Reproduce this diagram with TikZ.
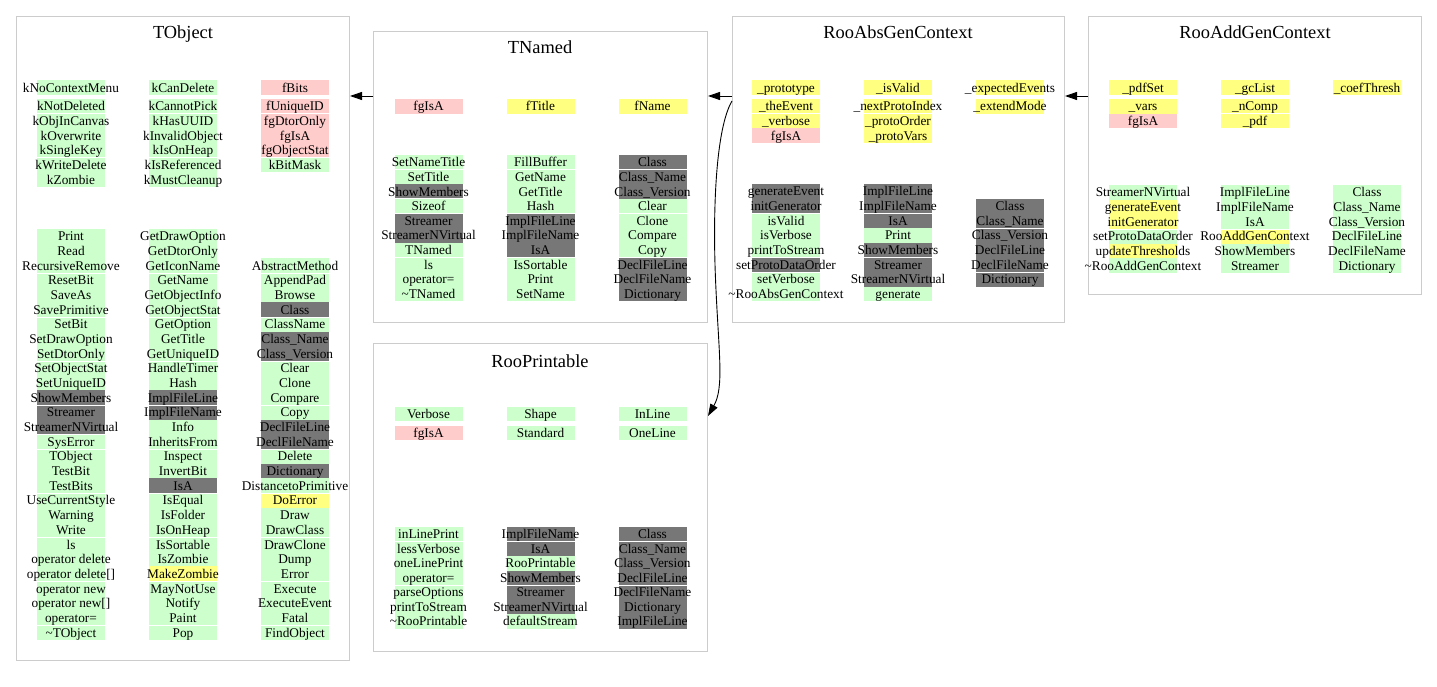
\documentclass[tikz,border=0pt]{standalone}
\usepackage{fontspec}
\setmainfont{Liberation Serif}
\usetikzlibrary{arrows.meta}
\definecolor{cg}{HTML}{CCFFCC}
\definecolor{cy}{HTML}{FFFF80}
\definecolor{cp}{HTML}{FFCCCC}
\definecolor{cd}{HTML}{777777}
\definecolor{bord}{HTML}{CCCCCC}
\newcount\cellid
\newcommand\mcol[4]{%
 \foreach \ccol/\ctext [count=\ii from 0] in {#4}{%
   \global\advance\cellid by 1
   \fill[\ccol] (#1-34,{#2+\ii*#3}) rectangle (#1+34,{#2+(\ii+1)*#3});
   \node[cell] (cell\the\cellid) at (#1,{#2+(\ii+0.5)*#3+4.6}) {\ctext};
 }%
}
\newcommand\msep[4]{%
 \foreach \s in {#4}{\draw[white,line width=1pt] (#1-34,{#2+\s*#3}) -- (#1+34,{#2+\s*#3});}%
}
\tikzset{
  cell/.style={inner sep=0pt, anchor=base, font=\fontsize{13.3pt}{14pt}\selectfont},
  title/.style={inner sep=0pt, anchor=base, font=\fontsize{18.4pt}{20pt}\selectfont},
  classbox/.style={draw=bord, line width=1pt, inner sep=0pt, fill=none},
  arr/.style={draw=black, line width=0.9pt, -{Triangle[length=12pt,width=8pt]}}
}
\begin{document}
\begin{tikzpicture}[x=1pt,y=-1pt]
\useasboundingbox (0,0) rectangle (1437,687);
\fill[white] (0,0) rectangle (1437,687);

% ---------- class boxes ----------
\node[classbox, minimum width=333pt, minimum height=644pt] (tobject) at (183,338.5) {};
\node[classbox, minimum width=334pt, minimum height=291pt] (tnamed) at (540.5,177) {};
\node[classbox, minimum width=332pt, minimum height=306pt] (rooabs) at (898.5,169.5) {};
\node[classbox, minimum width=333pt, minimum height=278pt] (rooadd) at (1255,155.5) {};
\node[classbox, minimum width=334pt, minimum height=308pt] (rooprint) at (540.5,497.5) {};

% ---------- titles ----------
\node[title] (tobjectT) at (183,39) {TObject};
\node[title] (tnamedT) at (540,54) {TNamed};
\node[title] (rooabsT) at (898,39) {RooAbsGenContext};
\node[title] (rooaddT) at (1255,39) {RooAddGenContext};
\node[title] (rooprintT) at (540,367) {RooPrintable};

% ---------- TObject ----------
\mcol{71}{80}{15}{cg/kNoContextMenu}
\mcol{183}{80}{15}{cg/kCanDelete}
\mcol{295}{80}{15}{cp/fBits}
\mcol{71}{99}{14.67}{cg/kNotDeleted, cg/kObjInCanvas, cg/kOverwrite, cg/kSingleKey, cg/kWriteDelete, cg/kZombie}
\msep{71}{99}{14.67}{1,4}
\mcol{183}{99}{14.67}{cg/kCannotPick, cg/kHasUUID, cg/kInvalidObject, cg/kIsOnHeap, cg/kIsReferenced, cg/kMustCleanup}
\msep{183}{99}{14.67}{1,4}
\mcol{295}{99}{14.67}{cp/fUniqueID, cp/fgDtorOnly, cp/fgIsA, cp/fgObjectStat, cg/kBitMask}
\msep{295}{99}{14.67}{1,4}

\mcol{71}{229}{14.67}{cg/Print, cg/Read, cg/RecursiveRemove, cg/ResetBit, cg/SaveAs, cg/SavePrimitive, cg/SetBit, cg/SetDrawOption, cg/SetDtorOnly, cg/SetObjectStat, cg/SetUniqueID, cd/ShowMembers, cd/Streamer, cd/StreamerNVirtual, cg/SysError, cg/TObject, cg/TestBit, cg/TestBits, cg/UseCurrentStyle, cg/Warning, cg/Write, cg/ls, cg/operator delete, cg/operator delete[], cg/operator new, cg/operator new[], cg/operator=, cg/\textasciitilde TObject}
\msep{71}{229}{14.67}{3,6,9,12,14,15,18,21,24,27}
\mcol{183}{229}{14.67}{cg/GetDrawOption, cg/GetDtorOnly, cg/GetIconName, cg/GetName, cg/GetObjectInfo, cg/GetObjectStat, cg/GetOption, cg/GetTitle, cg/GetUniqueID, cg/HandleTimer, cg/Hash, cd/ImplFileLine, cd/ImplFileName, cg/Info, cg/InheritsFrom, cg/Inspect, cg/InvertBit, cd/IsA, cg/IsEqual, cg/IsFolder, cg/IsOnHeap, cg/IsSortable, cg/IsZombie, cy/MakeZombie, cg/MayNotUse, cg/Notify, cg/Paint, cg/Pop}
\msep{183}{229}{14.67}{3,6,9,12,15,18,21,24,27}
\mcol{295}{258.34}{14.67}{cg/AbstractMethod, cg/AppendPad, cg/Browse, cd/Class, cg/ClassName, cd/Class\_Name, cd/Class\_Version, cg/Clear, cg/Clone, cg/Compare, cg/Copy, cd/DeclFileLine, cd/DeclFileName, cg/Delete, cd/Dictionary, cg/DistancetoPrimitive, cy/DoError, cg/Draw, cg/DrawClass, cg/DrawClone, cg/Dump, cg/Error, cg/Execute, cg/ExecuteEvent, cg/Fatal, cg/FindObject}
\msep{295}{258.34}{14.67}{1,4,7,10,13,16,19,22,25}

% ---------- TNamed ----------
\mcol{428.5}{99}{14.67}{cp/fgIsA}
\mcol{540.5}{99}{14.67}{cy/fTitle}
\mcol{652.5}{99}{14.67}{cy/fName}
\mcol{428.5}{155}{14.6}{cg/SetNameTitle, cg/SetTitle, cd/ShowMembers, cg/Sizeof, cd/Streamer, cd/StreamerNVirtual, cg/TNamed, cg/ls, cg/operator=, cg/\textasciitilde TNamed}
\msep{428.5}{155}{14.6}{1,3,4,7}
\mcol{540.5}{155}{14.6}{cg/FillBuffer, cg/GetName, cg/GetTitle, cg/Hash, cd/ImplFileLine, cd/ImplFileName, cd/IsA, cg/IsSortable, cg/Print, cg/SetName}
\msep{540.5}{155}{14.6}{1,4,7}
\mcol{652.5}{155}{14.6}{cd/Class, cd/Class\_Name, cd/Class\_Version, cg/Clear, cg/Clone, cg/Compare, cg/Copy, cd/DeclFileLine, cd/DeclFileName, cd/Dictionary}
\msep{652.5}{155}{14.6}{1,4,7}

% ---------- RooAbsGenContext ----------
\mcol{786}{80}{15}{cy/\_prototype}
\mcol{898}{80}{15}{cy/\_isValid}
\mcol{1010}{80}{15}{cy/\_expectedEvents}
\mcol{786}{99}{14.67}{cy/\_theEvent, cy/\_verbose, cp/fgIsA}
\msep{786}{99}{14.67}{1}
\mcol{898}{99}{14.67}{cy/\_nextProtoIndex, cy/\_protoOrder, cy/\_protoVars}
\msep{898}{99}{14.67}{1}
\mcol{1010}{99}{14.67}{cy/\_extendMode}
\mcol{786}{184}{14.67}{cd/generateEvent, cd/initGenerator, cg/isValid, cg/isVerbose, cg/printToStream, cd/setProtoDataOrder, cg/setVerbose, cg/\textasciitilde RooAbsGenContext}
\msep{786}{184}{14.67}{2,5,6}
\mcol{898}{184}{14.67}{cd/ImplFileLine, cd/ImplFileName, cd/IsA, cg/Print, cd/ShowMembers, cd/Streamer, cd/StreamerNVirtual, cg/generate}
\msep{898}{184}{14.67}{2,5}
\mcol{1010}{198.67}{14.67}{cd/Class, cd/Class\_Name, cd/Class\_Version, cd/DeclFileLine, cd/DeclFileName, cd/Dictionary}
\msep{1010}{198.67}{14.67}{2,5}

% ---------- RooAddGenContext ----------
\mcol{1143}{80}{15}{cy/\_pdfSet}
\mcol{1255}{80}{15}{cy/\_gcList}
\mcol{1367}{80}{15}{cy/\_coefThresh}
\mcol{1143}{99}{14.67}{cy/\_vars, cp/fgIsA}
\mcol{1255}{99}{14.67}{cy/\_nComp, cy/\_pdf}
\msep{1255}{99}{14.67}{1}
\mcol{1143}{185}{14.67}{cg/StreamerNVirtual, cy/generateEvent, cy/initGenerator, cg/setProtoDataOrder, cy/updateThresholds, cg/\textasciitilde RooAddGenContext}
\msep{1143}{185}{14.67}{3}
\mcol{1255}{185}{14.67}{cg/ImplFileLine, cg/ImplFileName, cg/IsA, cy/RooAddGenContext, cg/ShowMembers, cg/Streamer}
\msep{1255}{185}{14.67}{3}
\mcol{1367}{185}{14.67}{cg/Class, cg/Class\_Name, cg/Class\_Version, cg/DeclFileLine, cg/DeclFileName, cg/Dictionary}
\msep{1367}{185}{14.67}{3}

% ---------- RooPrintable ----------
\mcol{428.5}{407}{14}{cg/Verbose}
\mcol{540.5}{407}{14}{cg/Shape}
\mcol{652.5}{407}{14}{cg/InLine}
\mcol{428.5}{426}{14}{cp/fgIsA}
\mcol{540.5}{426}{14}{cg/Standard}
\mcol{652.5}{426}{14}{cg/OneLine}
\mcol{428.5}{527}{14.5}{cg/inLinePrint, cg/lessVerbose, cg/oneLinePrint, cg/operator=, cg/parseOptions, cg/printToStream, cg/\textasciitilde RooPrintable}
\msep{428.5}{527}{14.5}{1,4}
\mcol{540.5}{527}{14.5}{cd/ImplFileName, cd/IsA, cg/RooPrintable, cd/ShowMembers, cd/Streamer, cd/StreamerNVirtual, cg/defaultStream}
\msep{540.5}{527}{14.5}{1,4}
\mcol{652.5}{527}{14.5}{cd/Class, cd/Class\_Name, cd/Class\_Version, cd/DeclFileLine, cd/DeclFileName, cd/Dictionary, cd/ImplFileLine}
\msep{652.5}{527}{14.5}{1,4}

% ---------- inheritance arrows ----------
\draw[arr] ([yshift=-65pt]tnamed.north west) -- ([yshift=-80pt]tobject.north east);
\draw[arr] ([yshift=-80pt]rooabs.north west) -- ([yshift=-65pt]tnamed.north east);
\draw[arr] ([yshift=-80pt]rooadd.north west) -- ([yshift=-80pt]rooabs.north east);
\draw[arr] ([yshift=-85pt]rooabs.north west) .. controls (716,128) and (712,210) .. (716,290)
   .. controls (719,355) and (724,388) .. ([yshift=-73pt]rooprint.north east);
\end{tikzpicture}
\end{document}
